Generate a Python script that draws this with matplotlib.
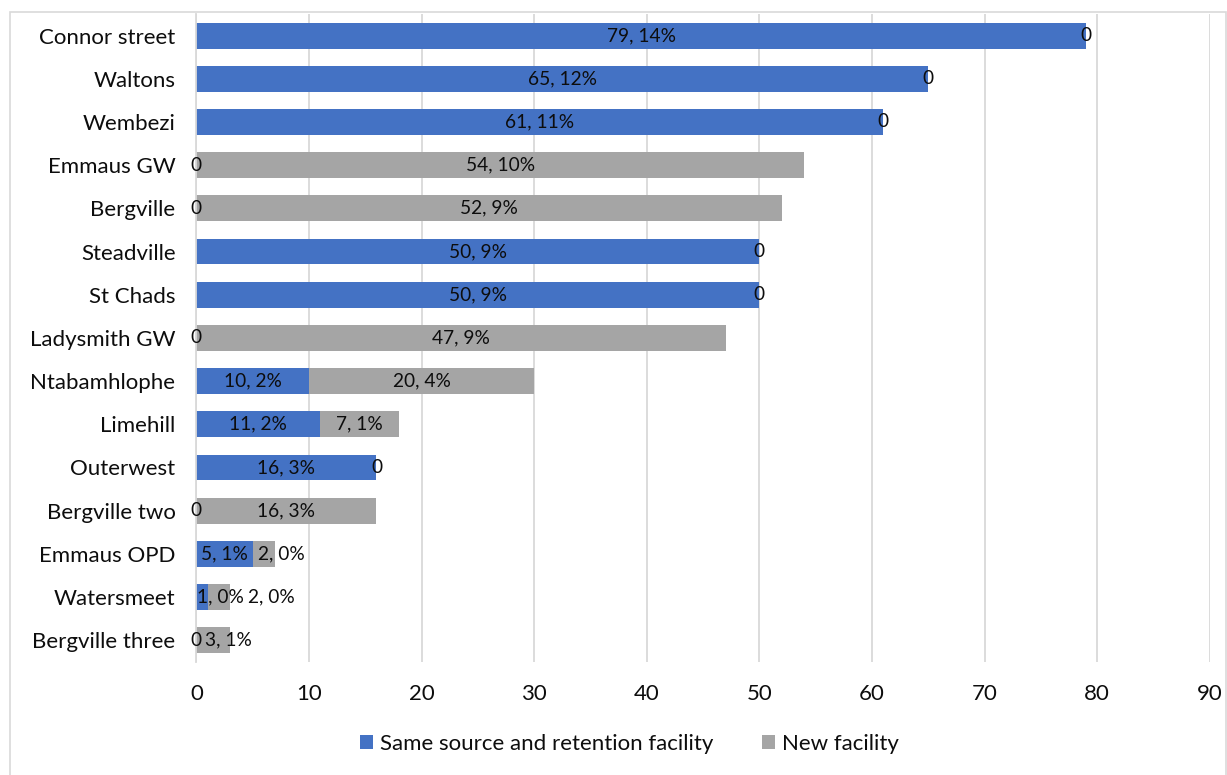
import matplotlib.pyplot as plt
import numpy as np
from matplotlib.patches import Rectangle

# facility counts per site, with share of total
sites = ["Connor street", "Waltons", "Wembezi", "Emmaus GW", "Bergville",
         "Steadville", "St Chads", "Ladysmith GW", "Ntabamhlophe", "Limehill",
         "Outerwest", "Bergville two", "Emmaus OPD", "Watersmeet", "Bergville three"]
same = [79, 65, 61, 0, 0, 50, 50, 0, 10, 11, 16, 0, 5, 1, 0]
same_pct = [14, 12, 11, 0, 0, 9, 9, 0, 2, 2, 3, 0, 1, 0, 0]
new = [0, 0, 0, 54, 52, 0, 0, 47, 20, 7, 0, 16, 2, 2, 3]
new_pct = [0, 0, 0, 10, 9, 0, 0, 9, 4, 1, 0, 3, 0, 0, 1]

plt.rcParams['font.family'] = ['Lato', 'DejaVu Sans']
txt = '#0d0d0d'

fig = plt.figure(figsize=(12.27, 7.75), dpi=100)
ax = fig.add_axes([0.16, 0.146, 0.826, 0.836])

y = np.arange(len(sites))
blue = '#4472C4'
grey = '#A5A5A5'
ax.barh(y, same, height=0.6, color=blue, label="Same source and retention facility")
ax.barh(y, new, left=same, height=0.6, color=grey, label="New facility")

def lab(v, p):
    return "0" if v == 0 else f"{v}, {p}%"

# crowded labels on the short bars get pushed right (pixels)
shift_same = {"Watersmeet": 18}
shift_new = {"Emmaus OPD": 17, "Watersmeet": 53, "Bergville three": 15}

for i, s in enumerate(sites):
    a, b = same[i], new[i]
    ax.annotate(lab(a, same_pct[i]), (a / 2, i), xytext=(shift_same.get(s, 0), 0),
                textcoords='offset pixels', ha='center', va='center',
                fontsize=13.8, color=txt)
    ax.annotate(lab(b, new_pct[i]), (a + b / 2, i), xytext=(shift_new.get(s, 0), 0),
                textcoords='offset pixels', ha='center', va='center',
                fontsize=13.8, color=txt)

ax.set_ylim(14.5, -0.5)
ax.set_xlim(0, 90)
ax.set_xticks(range(0, 91, 10))
ax.set_yticks(y)
ax.set_yticklabels(sites)
ax.tick_params(axis='both', length=0, labelsize=16, colors=txt)
ax.tick_params(axis='x', pad=16)
ax.tick_params(axis='y', pad=15)
ax.grid(axis='x', color='#d9d9d9', linewidth=1.3)
ax.set_axisbelow(True)
for s in ['top', 'right', 'bottom']:
    ax.spines[s].set_visible(False)
ax.spines['left'].set_color('#d9d9d9')
ax.spines['left'].set_linewidth(1.3)

leg = fig.legend(loc='center', bbox_to_anchor=(0.513, 0.04), ncol=2, frameon=False,
                 fontsize=16, handlelength=0.6, handleheight=0.6, columnspacing=2.2,
                 handletextpad=0.3)
for t in leg.get_texts():
    t.set_color(txt)

# chart border
fig.patches.append(Rectangle((0.008, -0.05), 0.991, 1.035, transform=fig.transFigure,
                             fill=False, edgecolor='#d9d9d9', linewidth=1.2))

fig.savefig("out.png", dpi=100)
